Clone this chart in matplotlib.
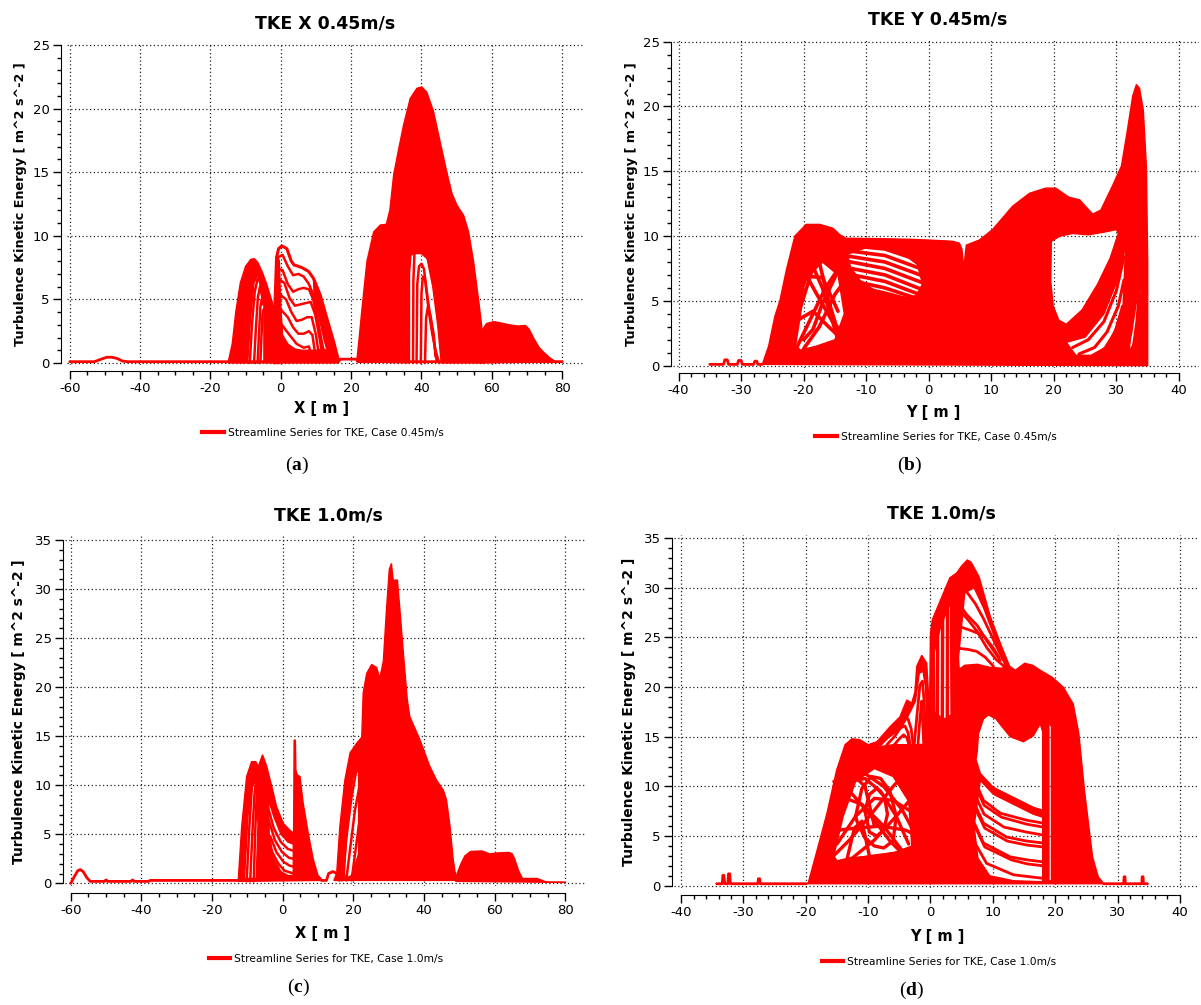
import numpy as np
import matplotlib
matplotlib.use("Agg")
import matplotlib.pyplot as plt
from matplotlib.path import Path
from matplotlib.patches import PathPatch
from matplotlib.lines import Line2D

# ---------------- panel (a): TKE X 0.45m/s ----------------
a_base_x = [-60, -53, -51, -49.5, -48, -46.5, -45, -43.5, 16.4, 17.0, 21.5, 22.0, 80]
a_base_y = [0.1, 0.1, 0.3, 0.45, 0.45, 0.35, 0.15, 0.1, 0.1, 0.3, 0.3, 0.1, 0.1]

a_hill1_x = [-15.0, -13.8, -12.8, -11.5, -10.0, -8.5, -7.5, -6.5, -5.2, -4.0, -3.0, -2.0, -1.6, -1.6, -4.8, -4.8, -5.6, -6.6, -7.6, -8.6, -9.4]
a_hill1_y = [0.0, 1.5, 4.0, 6.3, 7.6, 8.15, 8.2, 7.9, 7.1, 6.2, 5.3, 4.4, 4.2, 0.0, 0.0, 4.8, 6.0, 6.9, 6.3, 3.5, 0.0]
a_loop1_x = [-8.8, -8.2, -7.4, -6.6, -5.9, -5.4, -5.0]
a_loop1_y = [0.0, 3.0, 5.6, 6.6, 6.4, 5.5, 4.9]
a_loop2_x = [-7.6, -7.1, -6.5, -5.9, -5.4, -5.0]
a_loop2_y = [0.0, 2.6, 5.2, 6.0, 5.4, 4.8]
a_loop3_x = [-6.6, -6.2, -5.8, -5.4, -5.0]
a_loop3_y = [0.0, 2.2, 4.4, 5.0, 4.6]
a_loop4_x = [-5.8, -5.5, -5.2, -4.9]
a_loop4_y = [0.0, 2.0, 3.8, 4.2]

a_m2top_x = [-1.8, -1.6, -1.2, -0.6, 0.3, 1.7, 3.0, 3.8, 5.0, 6.0, 7.9, 9.3, 11.2, 13.1, 15.0, 16.4]
a_m2top_y = [0.0, 5.0, 8.3, 9.0, 9.2, 9.0, 8.0, 7.7, 7.6, 7.5, 7.2, 6.65, 5.35, 3.5, 1.7, 0.2]
a_n1_x = [-1.3, -0.8, 0.5, 2.0, 3.5, 5.0, 6.5, 8.0, 9.5, 11.0, 12.5, 14.0]
a_n1_y = [0.0, 8.3, 8.5, 7.6, 6.9, 7.0, 6.8, 6.2, 5.2, 3.6, 1.8, 0.3]
a_n2_x = [-1.2, -0.8, 0.5, 2.0, 3.5, 5.0, 6.5, 8.0, 9.2, 10.5, 12.0, 13.0]
a_n2_y = [0.0, 7.4, 7.3, 6.2, 5.6, 5.8, 5.9, 5.8, 5.0, 3.4, 1.2, 0.2]
a_n3_x = [-1.0, -0.6, 1.0, 2.5, 4.0, 5.5, 7.0, 8.5, 9.8, 11.0, 12.0]
a_n3_y = [0.0, 6.6, 6.3, 5.1, 4.5, 4.6, 4.7, 4.8, 3.8, 2.0, 0.3]
a_n4_x = [-0.8, -0.3, 1.5, 3.0, 4.5, 6.0, 7.5, 8.8, 10.0, 11.0]
a_n4_y = [0.0, 5.4, 5.0, 4.0, 3.3, 3.4, 3.6, 3.6, 2.2, 0.3]
a_n5_x = [-0.6, 0.0, 2.0, 3.5, 5.0, 6.5, 8.0, 9.0, 10.0]
a_n5_y = [0.0, 4.2, 3.6, 2.8, 2.3, 2.3, 2.5, 2.2, 0.3]
a_n6_x = [-0.4, 0.3, 2.5, 4.5, 6.5, 8.0, 9.0]
a_n6_y = [0.0, 3.0, 2.2, 1.5, 1.2, 1.3, 0.3]
a_m2low_x = [-2.0, -1.6, -1.0, -0.4, 0.0, 0.5, 2.0, 4.0, 6.0, 8.0, 10.0, 12.0, 14.0, 16.4]
a_m2low_y = [0.0, 5.0, 8.5, 8.0, 4.5, 2.2, 1.5, 1.1, 1.0, 1.0, 1.0, 1.1, 0.9, 0.0]
a_m2right_x = [9.3, 11.2, 13.1, 15.0, 16.4, 14.0, 12.5, 11.0, 9.5]
a_m2right_y = [6.65, 5.35, 3.5, 1.7, 0.2, 0.3, 1.8, 3.6, 5.2]

a_m3_x = [21.6, 22.3, 23.1, 24.5, 26.4, 28.3, 30.0, 31.0, 32.1, 33.5, 34.9, 36.8, 38.7, 40.1, 41.5, 43.4, 45.3, 47.2,
          48.7, 50.1, 52.0, 53.4, 54.8, 56.3, 57.2, 57.7, 58.0, 45.6, 44.6, 43.2, 41.6, 40.0, 38.5, 37.0, 36.6, 36.6]
a_m3_y = [0.1, 2.0, 4.3, 8.0, 10.3, 10.85, 10.9, 12.0, 14.8, 16.8, 18.7, 20.8, 21.6, 21.7, 21.3, 19.8, 17.4, 15.0,
          13.3, 12.4, 11.6, 10.3, 8.0, 4.8, 2.7, 1.7, 0.0, 0.0, 3.0, 6.0, 8.2, 8.6, 8.6, 8.5, 7.0, 0.0]
a_v1_x = [37.6, 37.7, 38.0]
a_v1_y = [0.0, 6.5, 8.5]
a_q1_x = [38.6, 38.8, 39.3, 40.0, 40.7, 41.3, 42.0, 43.0, 44.0, 45.0]
a_q1_y = [0.0, 6.2, 7.6, 7.8, 7.4, 6.0, 4.2, 2.4, 1.0, 0.0]
a_q2_x = [39.8, 40.0, 40.4, 41.0, 41.6, 42.5, 43.5, 44.3]
a_q2_y = [0.0, 5.5, 6.8, 6.6, 5.4, 3.6, 1.8, 0.2]
a_q3_x = [41.0, 41.3, 41.8, 42.5, 43.5, 44.0]
a_q3_y = [0.0, 3.5, 4.4, 3.8, 2.2, 0.5]

a_h4_x = [56.5, 57.3, 58.5, 60.6, 62.5, 65.0, 67.5, 69.5, 70.5, 72.0, 73.5, 74.9, 76.5, 78.2]
a_h4_y = [0.0, 2.6, 3.1, 3.25, 3.15, 3.0, 2.9, 2.95, 2.7, 1.9, 1.2, 0.8, 0.4, 0.1]

# ---------------- panel (b): TKE Y 0.45m/s ----------------
b_base_x = [-35.0, -32.8, -32.6, -32.2, -32.0, -30.6, -30.4, -30.0, -29.8, -28.0, -27.8, -27.5, -27.3, -26.6]
b_base_y = [0.1, 0.1, 0.45, 0.45, 0.1, 0.1, 0.4, 0.4, 0.1, 0.1, 0.35, 0.35, 0.1, 0.1]

b_main_x = [-26.6, -25.6, -24.6, -23.8, -22.75, -21.4, -19.6, -17.4, -15.3, -14.2, -13.2, -8.0, -3.0, -0.4, 3.8, 4.9,
            5.3, 5.6, 6.0, 8.1, 10.2, 13.4, 16.1, 18.7, 20.3, 22.4, 24.1, 26.2, 27.5, 29.3, 30.8, 31.7, 32.6, 33.2,
            33.7, 34.3, 34.8, 35.0, 35.0]
b_main_y = [0.1, 1.5, 3.8, 5.0, 7.4, 10.0, 10.9, 10.9, 10.6, 10.1, 9.83, 9.8, 9.75, 9.7, 9.6, 9.45,
            9.0, 7.5, 9.3, 9.7, 10.5, 12.3, 13.3, 13.7, 13.7, 13.0, 12.8, 11.7, 12.0, 13.8, 15.4, 18.0, 20.8, 21.7,
            21.4, 19.7, 15.3, 8.0, 0.0]
b_hole1_x = [-13.0, -10.0, -7.0, -4.0, -1.8, -1.0, -2.0, -5.0, -8.0, -11.0, -12.5]
b_hole1_y = [8.6, 9.1, 9.1, 8.6, 7.8, 6.3, 5.4, 5.2, 5.6, 6.6, 7.6]
b_hole2_x = [-21.5, -20.0, -17.0, -14.5, -13.5, -15.0, -18.0, -20.5, -21.8]
b_hole2_y = [3.0, 6.5, 8.0, 7.0, 4.0, 2.0, 1.5, 1.2, 1.8]
b_hole3_x = [19.6, 19.5, 19.9, 20.8, 22.0, 24.5, 27.0, 29.0, 30.3, 30.0, 28.0, 25.5, 23.0, 21.0]
b_hole3_y = [9.6, 6.5, 4.6, 3.5, 3.2, 4.3, 6.3, 8.3, 10.2, 10.5, 10.3, 10.1, 10.2, 10.0]
b_hole4_x = [22.0, 25.0, 28.0, 30.5, 31.5, 31.0, 28.5, 26.0, 23.5]
b_hole4_y = [1.8, 2.2, 4.0, 7.0, 9.5, 4.0, 1.5, 0.8, 0.8]
b_hole5_x = [32.0, 33.0, 34.0, 34.3, 33.6, 32.8]
b_hole5_y = [1.0, 2.0, 6.0, 10.5, 9.0, 4.5]
# diagonal streamlines across the plateau gap
b_p1_x = [-13.5, -7.0, -0.8]
b_p1_y = [9.3, 9.0, 8.0]
b_p2_x = [-13.5, -7.0, -0.8]
b_p2_y = [8.9, 8.5, 7.4]
b_p3_x = [-13.5, -7.0, -0.8]
b_p3_y = [8.5, 8.0, 6.9]
b_p4_x = [-13.5, -7.0, -1.0]
b_p4_y = [8.1, 7.5, 6.4]
b_p5_x = [-13.5, -7.0, -1.2]
b_p5_y = [7.6, 7.0, 5.9]
b_p6_x = [-13.2, -7.0, -1.5]
b_p6_y = [7.1, 6.5, 5.5]
b_p7_x = [-12.8, -7.0, -2.0]
b_p7_y = [6.6, 6.0, 5.2]
b_p8_x = [-12.5, -7.0, -3.0]
b_p8_y = [6.2, 5.6, 5.1]
# crossing streamlines in the left lobe
b_st4_x = [-21.8, -20.5, -18.5, -16.0, -13.5]
b_st4_y = [0.5, 4.5, 7.6, 8.4, 8.0]
b_st5_x = [-21.0, -19.0, -16.5, -14.0]
b_st5_y = [1.5, 3.5, 6.0, 7.8]
b_st6_x = [-20.5, -18.0, -15.5, -13.2]
b_st6_y = [7.8, 5.6, 3.5, 2.2]
b_st7_x = [-21.5, -19.5, -17.0, -14.5]
b_st7_y = [4.5, 6.9, 6.8, 4.2]
b_st11_x = [-20.0, -18.5, -17.0, -15.0, -13.5]
b_st11_y = [2.0, 2.8, 4.8, 6.8, 9.0]
b_st12_x = [-21.5, -20.0, -18.0]
b_st12_y = [2.0, 6.5, 8.5]
b_st13_x = [-20.0, -17.5, -15.0, -13.5]
b_st13_y = [1.3, 3.0, 5.5, 6.5]
b_st14_x = [-19.0, -17.0, -14.5]
b_st14_y = [8.2, 6.0, 2.0]
b_st15_x = [-17.5, -16.0, -14.0]
b_st15_y = [8.0, 5.0, 1.8]
b_st16_x = [-21.0, -18.5, -16.0, -13.8]
b_st16_y = [3.5, 4.2, 3.0, 2.0]
b_fan1_x = [23.0, 25.5, 28.0, 30.0, 31.2]
b_fan1_y = [1.4, 2.0, 3.4, 5.8, 8.4]
b_fan2_x = [24.0, 26.5, 28.5, 30.3, 31.2]
b_fan2_y = [0.9, 1.4, 2.6, 4.6, 6.6]
b_fan3_x = [26.0, 28.0, 29.8, 31.0]
b_fan3_y = [0.7, 1.2, 2.6, 4.6]
b_st8_x = [32.4, 33.3, 34.0, 34.4]
b_st8_y = [0.3, 3.5, 8.0, 11.5]
b_st9_x = [30.0, 31.5, 32.8, 33.8, 34.5]
b_st9_y = [0.3, 2.0, 5.0, 9.0, 13.0]
b_st10_x = [31.0, 32.3, 33.4, 34.2]
b_st10_y = [0.3, 2.5, 6.0, 10.0]

# ---------------- panel (c): TKE 1.0m/s along X ----------------
c_base_x = [-60.0, -59.0, -58.0, -57.3, -56.5, -55.5, -54.5, -52.0, -50.5, -50.0, -49.5, -43.0, -42.5, -42.0,
            -38.0, -37.5, -12.6, 10.1, 11.0, 12.4, 13.0, 14.2, 15.3, 16.0]
c_base_y = [0.0, 0.7, 1.3, 1.4, 1.2, 0.6, 0.2, 0.2, 0.2, 0.35, 0.2, 0.2, 0.35, 0.2,
            0.2, 0.3, 0.3, 0.7, 0.3, 0.3, 1.0, 1.2, 1.0, 0.3]
c_hill1_x = [-12.6, -11.6, -10.2, -8.8, -7.6, -6.9, -5.7, -4.5, -3.1, -1.7, 0.2, 2.1, 3.1, 3.25, 3.6, 3.75,
             4.0, 4.3, 4.9, 5.8, 7.25, 8.7, 10.1, 11.0]
c_hill1_y = [0.2, 5.8, 10.9, 12.4, 12.4, 11.9, 13.1, 11.9, 9.9, 7.8, 6.1, 5.4, 5.1, 14.6, 14.6, 11.5,
             11.2, 11.0, 10.9, 8.2, 5.1, 2.4, 0.7, 0.3]
c_hole1_x = [-4.0, -2.5, -0.5, 1.5, 3.0, 3.0, 1.5, -0.5, -2.5, -3.8]
c_hole1_y = [8.5, 6.8, 5.0, 4.2, 4.0, 0.8, 0.8, 1.2, 2.5, 5.0]
c_hole2_x = [-10.8, -9.8, -8.5, -7.5, -7.0, -7.5, -9.5]
c_hole2_y = [0.5, 7.0, 10.0, 10.5, 6.0, 0.5, 0.5]
c_st1_x = [-4.5, -2.5, -0.5, 1.5, 3.2]
c_st1_y = [8.2, 5.6, 4.2, 3.5, 3.3]
c_st2_x = [-4.0, -2.2, -0.2, 1.8, 3.2]
c_st2_y = [6.5, 4.4, 3.2, 2.6, 2.5]
c_st3_x = [-3.5, -1.8, 0.2, 2.0, 3.2]
c_st3_y = [4.8, 3.2, 2.2, 1.8, 1.7]
c_st4_x = [-3.0, -1.2, 0.5, 2.2, 3.2]
c_st4_y = [3.2, 2.0, 1.3, 1.1, 1.0]
c_st5_x = [-10.2, -9.4, -8.6, -8.0]
c_st5_y = [0.2, 6.0, 10.5, 11.8]
c_st6_x = [-9.2, -8.6, -8.0, -7.4]
c_st6_y = [0.2, 5.0, 9.0, 11.0]
c_st7_x = [-8.2, -7.8, -7.3]
c_st7_y = [0.2, 5.0, 9.5]

c_m2_x = [14.5, 15.3, 16.2, 17.6, 19.1, 21.0, 22.4, 22.8, 23.8, 25.2, 26.6, 27.5, 28.5, 29.4, 30.2, 30.8, 31.3,
          32.5, 33.2, 34.2, 35.3, 36.0, 38.9, 41.7, 43.6, 45.5, 46.4, 47.4, 48.3, 48.8, 49.4]
c_m2_y = [0.3, 1.0, 5.8, 10.5, 13.3, 14.3, 14.9, 19.4, 21.4, 22.3, 22.0, 20.9, 22.6, 27.9, 32.0, 32.6, 30.9,
          30.9, 27.9, 23.4, 18.7, 17.0, 14.6, 11.9, 10.5, 9.5, 8.5, 5.8, 2.4, 1.2, 0.3]
c_hole3_x = [17.5, 18.5, 20.0, 21.5, 21.5, 19.5, 17.8]
c_hole3_y = [1.0, 7.0, 11.0, 11.5, 3.0, 0.8, 0.5]
c_st8_x = [16.8, 18.0, 19.5, 21.0, 22.0]
c_st8_y = [0.3, 4.5, 8.8, 11.8, 12.5]
c_st9_x = [18.0, 19.2, 20.5, 21.8]
c_st9_y = [0.3, 3.8, 7.5, 10.0]
c_st10_x = [19.5, 20.5, 21.6]
c_st10_y = [0.3, 3.0, 6.0]

c_h3_x = [49.0, 49.4, 50.5, 51.6, 53.2, 56.5, 58.6, 60.8, 64.1, 65.0, 65.7, 66.8, 67.9, 72.0, 73.5, 75.0, 80.0]
c_h3_y = [0.2, 1.0, 2.0, 2.8, 3.25, 3.3, 3.0, 3.1, 3.15, 3.0, 2.5, 1.3, 0.5, 0.5, 0.3, 0.1, 0.1]

# ---------------- panel (d): TKE 1.0m/s along Y ----------------
d_base_x = [-34.3, -33.4, -33.3, -33.15, -33.0, -32.5, -32.4, -32.2, -32.1, -27.7, -27.6, -27.4, -27.3, -20.0]
d_base_y = [0.2, 0.2, 1.05, 1.05, 0.2, 0.2, 1.2, 1.2, 0.2, 0.2, 0.7, 0.7, 0.2, 0.2]
d_tail_x = [27.8, 31.0, 31.05, 31.2, 31.25, 33.9, 33.95, 34.1, 34.15, 34.8]
d_tail_y = [0.2, 0.2, 0.9, 0.9, 0.2, 0.2, 0.9, 0.9, 0.2, 0.2]

d_main_x = [-20.0, -19.6, -18.3, -16.6, -15.05, -13.7, -12.6, -11.3, -10.0, -8.6, -6.5, -4.9, -3.8, -3.0, -2.5,
            -2.2, -1.4, -0.6, -0.15, 0.0, 0.3, 0.7, 1.5, 2.3, 3.1, 4.2, 5.0, 5.9, 6.5, 7.8, 9.6, 11.4, 12.7, 13.6,
            15.1, 16.4, 17.6, 19.5, 21.3, 22.9, 23.8, 24.7, 26.0, 26.9, 27.8]
d_main_y = [0.2, 0.3, 3.3, 7.3, 11.65, 14.2, 14.8, 14.7, 14.2, 14.5, 16.0, 17.0, 18.7, 18.4, 19.5,
            22.1, 23.2, 22.4, 17.5, 25.4, 26.8, 27.4, 28.6, 29.8, 31.0, 31.5, 32.2, 32.8, 32.6, 31.1, 27.1, 24.1,
            22.1, 21.7, 22.4, 22.2, 21.7, 21.0, 20.0, 18.3, 15.3, 9.6, 2.9, 0.9, 0.2]
# white heart under the double hump
d_hole1_x = [7.5, 7.7, 8.5, 9.3, 10.5, 11.5, 12.8, 14.9, 16.5, 17.6, 18.0, 18.0, 16.5, 13.3, 10.1, 8.0, 7.3]
d_hole1_y = [13.5, 15.3, 16.8, 17.2, 16.8, 16.0, 15.0, 14.5, 15.1, 16.3, 15.5, 7.6, 7.9, 8.9, 9.9, 11.3, 12.7]
# gaps between the stacked low curves
d_hole2_x = [8.0, 10.1, 13.3, 16.5, 18.0, 18.0, 13.3, 9.5, 7.6, 7.0]
d_hole2_y = [10.6, 9.2, 8.2, 7.2, 6.9, 0.4, 0.5, 1.0, 2.8, 6.0]
d_hole3_x = [4.5, 5.5, 7.0, 8.5, 10.0, 11.5, 12.3, 11.5, 9.5, 7.5, 5.5, 4.6]
d_hole3_y = [23.0, 29.5, 30.0, 28.0, 25.5, 22.8, 22.2, 21.9, 22.0, 22.3, 22.2, 21.8]
d_hole4_x = [-8.4, -7.0, -5.0, -4.0, -3.5, -2.4, -1.8, -1.2, -0.8, -0.6, -0.7, -2.0, -4.0, -6.0, -8.2]
d_hole4_y = [14.1, 14.8, 15.7, 16.6, 17.2, 18.6, 21.4, 21.6, 20.0, 17.0, 14.3, 14.2, 14.2, 14.2, 14.0]
d_hole5_x = [-15.5, -14.0, -12.0, -9.0, -6.0, -3.5, -3.0, -5.5, -9.0, -13.0, -15.0]
d_hole5_y = [3.0, 7.0, 10.5, 11.8, 11.0, 8.5, 4.0, 3.4, 3.0, 2.8, 2.5]
d_hole6_x = [0.6, 1.6, 2.4, 3.2, 3.3, 2.4, 1.6, 0.7]
d_hole6_y = [23.5, 26.0, 27.3, 28.5, 17.2, 16.8, 17.0, 17.5]
d_hole7_x = [19.0, 19.4, 19.4, 19.0]
d_hole7_y = [0.5, 0.5, 16.0, 16.5]
# stacked curves below the heart
d_s2a_x = [6.6, 8.5, 11.2, 15.4, 18.1]
d_s2a_y = [11.3, 8.6, 7.3, 6.6, 6.3]
d_s2b_x = [6.7, 8.6, 11.4, 15.4, 18.1]
d_s2b_y = [10.8, 8.1, 6.9, 6.2, 5.9]
d_s3c_x = [6.5, 8.6, 11.8, 15.4, 18.1]
d_s3c_y = [10.0, 7.2, 5.9, 5.4, 5.1]
d_s3a_x = [6.3, 8.5, 12.2, 15.4, 18.1]
d_s3a_y = [9.3, 6.3, 4.9, 4.5, 4.3]
d_s3b_x = [6.4, 8.7, 12.3, 15.4, 18.1]
d_s3b_y = [8.8, 5.8, 4.5, 4.1, 3.9]
d_s4a_x = [6.3, 8.5, 12.8, 15.5, 18.1]
d_s4a_y = [7.3, 4.3, 2.9, 2.6, 2.4]
d_s4b_x = [6.5, 8.7, 13.0, 15.5, 18.1]
d_s4b_y = [6.8, 3.9, 2.6, 2.2, 2.0]
d_s5_x = [6.6, 9.0, 13.3, 18.1]
d_s5_y = [4.9, 2.25, 1.1, 0.74]
# curves falling from the main peak
d_u1_x = [4.6, 5.8, 7.2, 8.5, 10.6, 12.2]
d_u1_y = [30.2, 29.6, 28.4, 26.9, 24.1, 22.1]
d_u2_x = [4.6, 5.8, 7.5, 9.0, 11.2]
d_u2_y = [28.4, 27.3, 26.2, 24.7, 22.7]
d_u3_x = [4.6, 6.5, 8.5, 10.0, 11.0]
d_u3_y = [26.1, 25.7, 25.2, 24.0, 23.0]
d_u4_x = [4.6, 6.0, 7.4, 8.8, 10.1]
d_u4_y = [23.9, 23.8, 23.6, 23.0, 22.1]
d_u5_x = [5.0, 6.0, 7.5, 9.0, 10.5, 11.8]
d_u5_y = [27.5, 26.8, 25.6, 24.0, 22.8, 22.1]
# nested arches of the left staircase
d_ar1_x = [-8.0, -6.5, -5.0, -4.2, -3.6, -3.1, -2.8]
d_ar1_y = [14.2, 15.2, 16.4, 17.0, 16.8, 15.8, 14.3]
d_ar2_x = [-7.0, -5.8, -4.8, -4.1, -3.6, -3.3]
d_ar2_y = [14.2, 15.0, 15.9, 16.1, 15.4, 14.3]
d_ar3_x = [-5.8, -5.0, -4.3, -3.8, -3.5]
d_ar3_y = [14.2, 14.8, 15.2, 14.9, 14.3]
d_sp1_x = [-2.6, -2.1, -1.7, -1.3, -1.0, -0.8]
d_sp1_y = [14.3, 17.6, 20.2, 20.6, 18.5, 14.4]
d_sp2_x = [-2.0, -1.7, -1.4, -1.1]
d_sp2_y = [14.3, 16.8, 18.6, 14.4]
# crosshatch of the lower-left lobe
d_cx1_x = [-12.0, -11.0, -9.5, -8.0, -6.5, -5.5, -6.0, -7.5, -9.0, -10.5, -11.8, -12.0]
d_cx1_y = [7.0, 9.8, 11.0, 10.8, 9.5, 7.0, 4.5, 3.8, 4.0, 4.8, 6.5, 7.0]
d_cx2_x = [-10.5, -9.8, -8.6, -7.4, -6.9, -7.5, -8.6, -9.8, -10.5]
d_cx2_y = [7.5, 9.2, 9.8, 9.0, 7.2, 5.6, 5.0, 5.4, 7.5]
d_cx3_x = [-16.5, -13.0, -9.5, -6.0, -3.0]
d_cx3_y = [2.4, 4.6, 7.2, 10.0, 12.0]
d_cx4_x = [-15.5, -12.5, -9.0, -5.5, -2.8]
d_cx4_y = [1.8, 2.8, 4.6, 7.0, 9.0]
d_cx5_x = [-15.5, -12.5, -9.5, -6.5, -3.2]
d_cx5_y = [10.5, 9.2, 7.0, 4.5, 2.4]
d_cx6_x = [-14.0, -11.0, -7.5, -4.5, -2.8]
d_cx6_y = [12.0, 11.5, 10.0, 7.6, 5.6]
d_cx7_x = [-16.0, -14.5, -12.5, -10.5, -9.0]
d_cx7_y = [3.0, 8.5, 11.2, 10.0, 6.0]
d_cx8_x = [-13.5, -12.2, -11.0, -9.8]
d_cx8_y = [2.4, 5.8, 6.5, 3.0]
d_cx9_x = [-16.5, -13.0, -9.0, -5.0, -2.7]
d_cx9_y = [2.2, 2.6, 3.0, 3.3, 3.2]
d_cx10_x = [-16.0, -12.0, -8.0, -4.0, -2.7]
d_cx10_y = [5.5, 5.8, 6.0, 5.6, 5.2]
d_cx11_x = [-10.0, -7.0, -4.5, -2.6]
d_cx11_y = [12.2, 12.0, 10.4, 8.9]
d_cx12_x = [-15.0, -12.0, -9.0, -6.0, -3.2]
d_cx12_y = [4.2, 7.0, 8.8, 8.6, 7.5]
d_cx13_x = [-14.5, -11.0, -7.5, -4.5]
d_cx13_y = [9.0, 8.2, 6.0, 3.5]
d_cx14_x = [-13.0, -10.5, -8.0, -5.5, -3.5]
d_cx14_y = [10.5, 10.8, 9.5, 7.0, 4.2]
# vertical risers to the left of the peak
d_v1_x = [1.1, 1.15]
d_v1_y = [16.9, 25.8]
d_v2_x = [1.9, 1.95]
d_v2_y = [16.8, 27.4]
d_v3_x = [2.7, 2.75]
d_v3_y = [16.8, 28.6]

titles = ["TKE X 0.45m/s", "TKE Y 0.45m/s", "TKE 1.0m/s", "TKE 1.0m/s"]
xlabels = ["X [ m ]", "Y [ m ]", "X [ m ]", "Y [ m ]"]
ylabel = "Turbulence Kinetic Energy [ m^2 s^-2 ]"
legend_labels = ["Streamline Series for TKE, Case 0.45m/s", "Streamline Series for TKE, Case 0.45m/s",
                 "Streamline Series for TKE, Case 1.0m/s", "Streamline Series for TKE, Case 1.0m/s"]
panel_tags = ["a", "b", "c", "d"]

RED = "#ff0000"
W, H, DPI = 1201, 1005, 100

plt.rcParams["axes.unicode_minus"] = False
plt.rcParams["font.family"] = "DejaVu Sans"
plt.rcParams["mathtext.fontset"] = "custom"
plt.rcParams["mathtext.rm"] = "Liberation Serif"
plt.rcParams["mathtext.bf"] = "Liberation Serif:bold"

fig = plt.figure(figsize=(W / DPI, H / DPI), dpi=DPI)


def ring(xs, ys, ccw):
    pts = np.column_stack([xs, ys]).astype(float)
    area = 0.5 * np.sum(pts[:, 0] * np.roll(pts[:, 1], -1) - np.roll(pts[:, 0], -1) * pts[:, 1])
    if (area > 0) != ccw:
        pts = pts[::-1]
    return pts


def blob(ax, xs, ys, holes=()):
    # filled bundle of streamlines, holes are the white gaps inside it
    verts, codes = [], []
    for k, (hx, hy) in enumerate([(xs, ys)] + list(holes)):
        pts = ring(hx, hy, k == 0)
        verts += list(pts) + [pts[0]]
        codes += [Path.MOVETO] + [Path.LINETO] * (len(pts) - 1) + [Path.CLOSEPOLY]
    ax.add_patch(PathPatch(Path(verts, codes), fc=RED, ec=RED, lw=1.0, zorder=3))


def strand(ax, xs, ys, lw=1.8):
    ax.plot(xs, ys, color=RED, lw=lw, zorder=4, solid_capstyle="round", solid_joinstyle="round")


def make_axes(box, xlim, ylim, xt, xminor, ytop, offs):
    L, R, T, B = box
    ax = fig.add_axes([L / W, 1 - B / H, (R - L) / W, (B - T) / H])
    ax.set_xlim(xlim)
    ax.set_ylim(ylim)
    ax.spines["top"].set_visible(False)
    ax.spines["right"].set_visible(False)
    ax.spines["left"].set_position(("outward", offs[0] * 72 / DPI))
    ax.spines["bottom"].set_position(("outward", offs[1] * 72 / DPI))
    ax.spines["left"].set_bounds(0, ytop)
    ax.spines["bottom"].set_bounds(xt[0], xt[-1])
    ax.set_xticks(xt)
    ax.set_xticks(np.arange(xt[0], xt[-1] + 0.1, xminor), minor=True)
    ax.set_yticks(np.arange(0, ytop + 0.1, 5))
    ax.set_yticks(np.arange(0, ytop + 0.1, 1), minor=True)
    ax.tick_params(which="major", direction="out", length=6, width=1, labelsize=9.5, pad=2)
    ax.tick_params(which="minor", direction="out", length=3, width=1)
    ax.set_axisbelow(True)
    ax.grid(True, which="major", color="#222222", linestyle=(0, (1, 2)), linewidth=0.9)
    return ax


def px(x, y):
    return x / W, 1 - y / H


boxes = [(67, 584, 43, 365), (673, 1199, 40, 368), (65, 586, 536, 886), (674, 1199, 535, 888)]
xlims = [(-60.77, 86.2), (-40.88, 43.2), (-61.64, 85.9), (-41.14, 43.07)]
ylims = [(-0.16, 25.16), (-0.18, 25.13), (-0.27, 35.4), (-0.23, 35.32)]
offsets = [(6, 6), (2, 5), (2, 7), (2, 7)]
title_pos = [(325, 23), (938, 20), (328, 516), (941, 514)]
ylab_pos = [(21, 204), (631, 204), (19, 712), (629, 712)]
ylab_size = [9.2, 9.2, 9.9, 10.0]
xlab_pos = [(322, 408), (933, 412), (323, 933), (937, 936)]
leg_pos = [(323, 433), (936, 437), (326, 959), (939, 962)]
tag_pos = [(297, 465), (910, 465), (298, 987), (912, 990)]

axes = []
for i in range(4):
    wide = i in (0, 2)
    xt = np.arange(-60, 81, 20) if wide else np.arange(-40, 41, 10)
    ax = make_axes(boxes[i], xlims[i], ylims[i], xt, 5 if wide else 2, 25 if i < 2 else 35, offsets[i])
    axes.append(ax)
    fig.text(*px(*title_pos[i]), titles[i], ha="center", va="center", fontsize=12.5, fontweight="bold")
    fig.text(*px(*ylab_pos[i]), ylabel, ha="center", va="center", rotation=90,
             fontsize=ylab_size[i], fontweight="bold")
    fig.text(*px(*xlab_pos[i]), xlabels[i], ha="center", va="center", fontsize=10.5, fontweight="bold")
    h = Line2D([], [], color=RED, lw=3)
    fig.legend([h], [legend_labels[i]], loc="center", bbox_to_anchor=px(*leg_pos[i]), frameon=False,
               fontsize=7.7, handlelength=2.0, handletextpad=0.4, borderpad=0, borderaxespad=0)
    fig.text(*px(*tag_pos[i]), "($\\mathbf{" + panel_tags[i] + "}$)", ha="center", va="center",
             fontsize=14, family="Liberation Serif")

# panel (a)
ax = axes[0]
strand(ax, a_base_x, a_base_y, 2.0)
blob(ax, a_hill1_x, a_hill1_y)
for xs, ys in [(a_loop1_x, a_loop1_y), (a_loop2_x, a_loop2_y), (a_loop3_x, a_loop3_y), (a_loop4_x, a_loop4_y)]:
    strand(ax, xs, ys)
blob(ax, a_m2low_x, a_m2low_y)
blob(ax, a_m2right_x, a_m2right_y)
strand(ax, a_m2top_x, a_m2top_y, 2.2)
for xs, ys in [(a_n1_x, a_n1_y), (a_n2_x, a_n2_y), (a_n3_x, a_n3_y), (a_n4_x, a_n4_y),
               (a_n5_x, a_n5_y), (a_n6_x, a_n6_y)]:
    strand(ax, xs, ys)
blob(ax, a_m3_x, a_m3_y)
for xs, ys in [(a_v1_x, a_v1_y), (a_q1_x, a_q1_y), (a_q2_x, a_q2_y), (a_q3_x, a_q3_y)]:
    strand(ax, xs, ys)
blob(ax, a_h4_x, a_h4_y)

# panel (b)
ax = axes[1]
strand(ax, b_base_x, b_base_y, 2.0)
blob(ax, b_main_x, b_main_y, [(b_hole1_x, b_hole1_y), (b_hole2_x, b_hole2_y), (b_hole3_x, b_hole3_y),
                              (b_hole4_x, b_hole4_y), (b_hole5_x, b_hole5_y)])
for xs, ys in [(b_p1_x, b_p1_y), (b_p2_x, b_p2_y), (b_p3_x, b_p3_y), (b_p4_x, b_p4_y),
               (b_p5_x, b_p5_y), (b_p6_x, b_p6_y), (b_p7_x, b_p7_y), (b_p8_x, b_p8_y),
               (b_st4_x, b_st4_y), (b_st5_x, b_st5_y), (b_st6_x, b_st6_y), (b_st7_x, b_st7_y),
               (b_st11_x, b_st11_y), (b_st12_x, b_st12_y), (b_st13_x, b_st13_y), (b_st14_x, b_st14_y),
               (b_st15_x, b_st15_y), (b_st16_x, b_st16_y)]:
    strand(ax, xs, ys, 2.6)
for xs, ys in [(b_fan1_x, b_fan1_y), (b_fan2_x, b_fan2_y), (b_fan3_x, b_fan3_y),
               (b_st8_x, b_st8_y), (b_st9_x, b_st9_y), (b_st10_x, b_st10_y)]:
    strand(ax, xs, ys, 2.2)

# panel (c)
ax = axes[2]
strand(ax, c_base_x, c_base_y, 2.0)
blob(ax, c_hill1_x, c_hill1_y, [(c_hole1_x, c_hole1_y), (c_hole2_x, c_hole2_y)])
blob(ax, c_m2_x, c_m2_y, [(c_hole3_x, c_hole3_y)])
blob(ax, c_h3_x, c_h3_y)
for xs, ys in [(c_st1_x, c_st1_y), (c_st2_x, c_st2_y), (c_st3_x, c_st3_y), (c_st4_x, c_st4_y),
               (c_st5_x, c_st5_y), (c_st6_x, c_st6_y), (c_st7_x, c_st7_y), (c_st8_x, c_st8_y),
               (c_st9_x, c_st9_y), (c_st10_x, c_st10_y)]:
    strand(ax, xs, ys)

# panel (d)
ax = axes[3]
strand(ax, d_base_x, d_base_y, 2.0)
strand(ax, d_tail_x, d_tail_y, 2.0)
blob(ax, d_main_x, d_main_y, [(d_hole1_x, d_hole1_y), (d_hole2_x, d_hole2_y), (d_hole3_x, d_hole3_y),
                              (d_hole4_x, d_hole4_y), (d_hole5_x, d_hole5_y), (d_hole6_x, d_hole6_y),
                              (d_hole7_x, d_hole7_y)])
for xs, ys in [(d_s2a_x, d_s2a_y), (d_s2b_x, d_s2b_y), (d_s3c_x, d_s3c_y), (d_s3a_x, d_s3a_y),
               (d_s3b_x, d_s3b_y), (d_s4a_x, d_s4a_y), (d_s4b_x, d_s4b_y), (d_s5_x, d_s5_y),
               (d_u1_x, d_u1_y), (d_u2_x, d_u2_y), (d_u3_x, d_u3_y), (d_u4_x, d_u4_y), (d_u5_x, d_u5_y),
               (d_ar1_x, d_ar1_y), (d_ar2_x, d_ar2_y), (d_ar3_x, d_ar3_y), (d_sp1_x, d_sp1_y), (d_sp2_x, d_sp2_y)]:
    strand(ax, xs, ys, 2.0)
for xs, ys in [(d_cx1_x, d_cx1_y), (d_cx2_x, d_cx2_y), (d_cx3_x, d_cx3_y), (d_cx4_x, d_cx4_y),
               (d_cx5_x, d_cx5_y), (d_cx6_x, d_cx6_y), (d_cx7_x, d_cx7_y), (d_cx8_x, d_cx8_y),
               (d_cx9_x, d_cx9_y), (d_cx10_x, d_cx10_y), (d_cx11_x, d_cx11_y), (d_cx12_x, d_cx12_y),
               (d_cx13_x, d_cx13_y), (d_cx14_x, d_cx14_y)]:
    strand(ax, xs, ys, 2.4)
for xs, ys in [(d_v1_x, d_v1_y), (d_v2_x, d_v2_y), (d_v3_x, d_v3_y)]:
    strand(ax, xs, ys, 2.5)

fig.savefig("out.png", dpi=DPI)
